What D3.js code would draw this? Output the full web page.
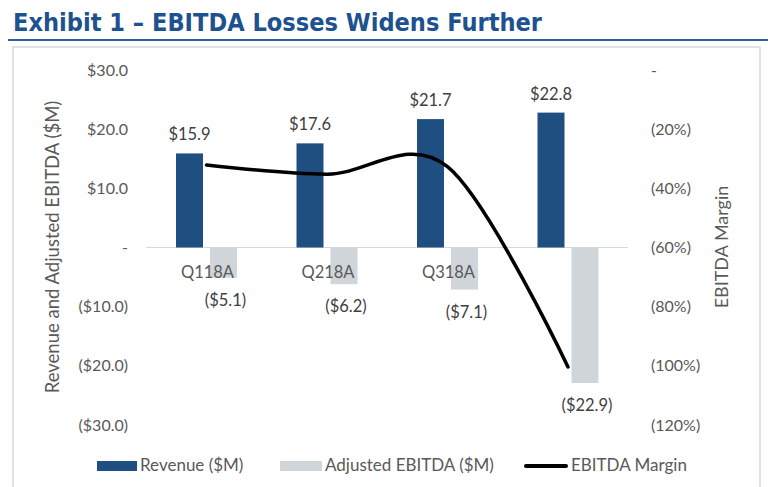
<!DOCTYPE html>
<html><head><meta charset="utf-8">
<script src="https://cdn.jsdelivr.net/npm/d3@7"></script>
<style>body{margin:0;background:#fff;}svg{display:block;}</style>
</head><body>
<svg id="c" width="768" height="487"></svg>
<script>
const categories = ["Q118A","Q218A","Q318A","Q418A"];
const categoryLabels = ["Q118A","Q218A","Q318A",""];
const series = ["Revenue ($M)","Adjusted EBITDA ($M)"];
const revenue = [15.9, 17.6, 21.7, 22.8];
const ebitda = [-5.1, -6.2, -7.1, -22.9];
const margin = [-32.1, -35.2, -32.7, -100.4];
const leftTicks = [30, 20, 10, 0, -10, -20, -30];
const rightTicks = [0, -20, -40, -60, -80, -100, -120];

const svg = d3.select("#c");
const FONT = "Lato, 'Open Sans', sans-serif";
const GRAY = "#595959";
const BLUE = "#1f4e80";
const LGRAY = "#d0d5da";

// title
svg.append("text").attr("x",13).attr("y",31)
  .attr("font-family","'DejaVu Sans', Verdana, sans-serif").attr("font-weight","bold")
  .attr("font-size",24).attr("fill","#1d5190")
  .attr("textLength",529).attr("lengthAdjust","spacingAndGlyphs")
  .text("Exhibit 1 \u2013 EBITDA Losses Widens Further");
svg.append("line").attr("x1",8).attr("x2",768).attr("y1",40).attr("y2",40)
  .attr("stroke","#2e5f9e").attr("stroke-width",2);
svg.append("rect").attr("x",13).attr("y",47).attr("width",747).attr("height",460)
  .attr("fill","none").attr("stroke","#d9d9d9").attr("stroke-width",1.5);

const x0 = d3.scaleBand().domain(categories).range([146.25, 628.25]);
const bw = x0.bandwidth();
const x1 = d3.scaleBand().domain(series).range([bw/2 - 30.5, bw/2 + 30.5]).paddingInner(0.2059);
const y = d3.scaleLinear().domain([-30, 30]).range([425, 70]);
const yR = d3.scaleLinear().domain([-120, 0]).range([425, 70]);

const fmtL = v => v === 0 ? "-" : (v > 0 ? "$" + v.toFixed(1) : "($" + (-v).toFixed(1) + ")");
const fmtR = v => v === 0 ? "-" : "(" + (-v) + "%)";

const gL = svg.append("g").attr("transform","translate(128,0)")
  .call(d3.axisLeft(y).tickValues(leftTicks).tickFormat(fmtL).tickSize(0).tickPadding(0));
gL.select(".domain").remove();
gL.attr("font-family",FONT).attr("font-size",16);
gL.selectAll("text").attr("fill",GRAY);

const gR = svg.append("g").attr("transform","translate(651,0)")
  .call(d3.axisRight(yR).tickValues(rightTicks).tickFormat(fmtR).tickSize(0).tickPadding(0));
gR.select(".domain").remove();
gR.attr("font-family",FONT).attr("font-size",16);
gR.selectAll("text").attr("fill",GRAY);

// axis titles
svg.append("text").attr("transform","translate(59,247) rotate(-90)")
  .attr("text-anchor","middle").attr("font-family",FONT).attr("font-size",18.5)
  .attr("fill",GRAY).text("Revenue and Adjusted EBITDA ($M)");
svg.append("text").attr("transform","translate(728,247) rotate(-90)")
  .attr("text-anchor","middle").attr("font-family",FONT).attr("font-size",18)
  .attr("fill",GRAY).text("EBITDA Margin");

// zero line
svg.append("line").attr("x1",146).attr("x2",628).attr("y1",y(0)).attr("y2",y(0))
  .attr("stroke","#d9d9d9").attr("stroke-width",1.2);

// bars
const g = svg.append("g");
g.selectAll("rect.rev").data(categories).join("rect").attr("class","rev")
  .attr("x",(d)=>x0(d)+x1(series[0])).attr("width",x1.bandwidth())
  .attr("y",(d,i)=>y(revenue[i])).attr("height",(d,i)=>y(0)-y(revenue[i]))
  .attr("fill",BLUE);
g.selectAll("rect.eb").data(categories).join("rect").attr("class","eb")
  .attr("x",(d)=>x0(d)+x1(series[1])).attr("width",x1.bandwidth())
  .attr("y",y(0)).attr("height",(d,i)=>y(ebitda[i])-y(0))
  .attr("fill",LGRAY);

// category labels
g.selectAll("text.cat").data(categories).join("text").attr("class","cat")
  .attr("x",d=>x0(d)+bw/2+1).attr("y",278).attr("text-anchor","middle")
  .attr("font-family",FONT).attr("font-size",16.5).attr("fill",GRAY)
  .text((d,i)=>categoryLabels[i]);

// value labels
g.selectAll("text.rl").data(categories).join("text").attr("class","rl")
  .attr("x",d=>x0(d)+x1(series[0])+x1.bandwidth()/2).attr("y",(d,i)=>y(revenue[i])-13)
  .attr("text-anchor","middle").attr("font-family",FONT).attr("font-size",16.5).attr("fill","#404040")
  .text((d,i)=>fmtL(revenue[i]));
g.selectAll("text.el").data(categories).join("text").attr("class","el")
  .attr("x",d=>x0(d)+x1(series[1])+x1.bandwidth()/2+2).attr("y",(d,i)=>y(ebitda[i])+28)
  .attr("text-anchor","middle").attr("font-family",FONT).attr("font-size",16.5).attr("fill","#404040")
  .text((d,i)=>fmtL(ebitda[i]));

// margin line
const line = d3.line().x((d,i)=>x0(categories[i])+bw/2).y(d=>yR(d)).curve(d3.curveCardinal.tension(0));
svg.append("path").attr("d",line(margin)).attr("fill","none").attr("stroke","#000")
  .attr("stroke-width",3.5).attr("stroke-linecap","round");

// legend
const lg = svg.append("g").attr("font-family",FONT).attr("font-size",17).attr("fill",GRAY);
lg.append("rect").attr("x",97).attr("y",461).attr("width",40).attr("height",10).attr("fill",BLUE);
lg.append("text").attr("x",140).attr("y",471).text(series[0]);
lg.append("rect").attr("x",280).attr("y",461).attr("width",42).attr("height",10).attr("fill",LGRAY);
lg.append("text").attr("x",325).attr("y",471).text(series[1]);
lg.append("line").attr("x1",526).attr("x2",566).attr("y1",466).attr("y2",466)
  .attr("stroke","#000").attr("stroke-width",4).attr("stroke-linecap","round");
lg.append("text").attr("x",571).attr("y",471).text("EBITDA Margin");
</script>
</body></html>
